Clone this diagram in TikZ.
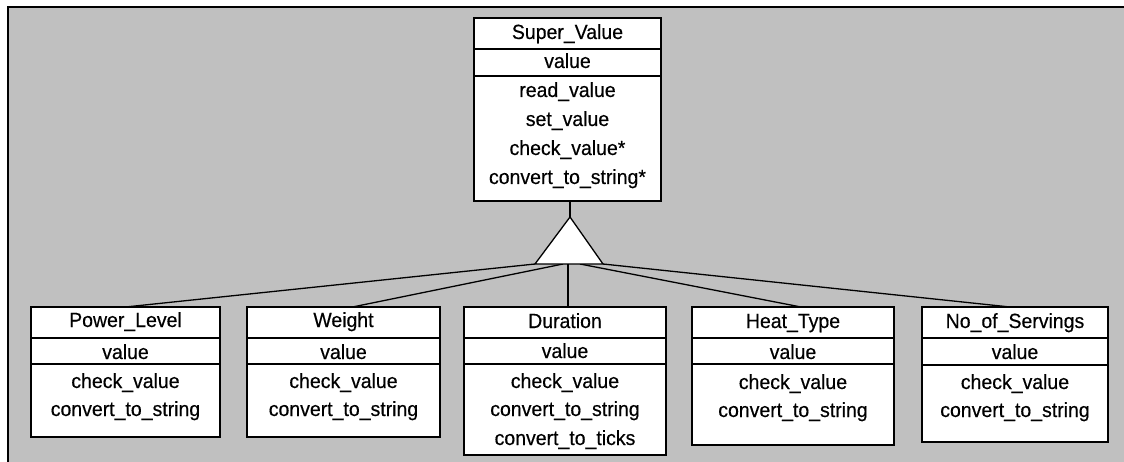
\documentclass[tikz,border=0pt]{standalone}
\usepackage{fontspec}
\setmainfont{Liberation Sans}[FakeStretch=0.95, FakeBold=0.4]
\usetikzlibrary{calc}
\definecolor{panel}{HTML}{C0C0C0}
\tikzset{
  cls/.style={draw=black, fill=white, line width=2pt, inner sep=0pt, outer sep=0pt, anchor=north west},
  divline/.style={draw=black, line width=1.3pt},
  lbl/.style={anchor=base, inner sep=0pt, font=\fontsize{20.5}{24}\selectfont},
  link/.style={draw=black, line width=1.3pt},
  inherit/.style={draw=black, fill=white, line width=1.3pt, line join=miter},
}
\begin{document}
\begin{tikzpicture}[x=1pt, y=-1pt]
  % canvas and panel frame
  \useasboundingbox (0,0) rectangle (1124,462);
  \fill[white] (0,0) rectangle (1124,462);
  \fill[panel] (8,7) rectangle (1124,462);
  \draw[line width=2pt] (8,462) -- (8,7) -- (1124,7);

  % ---- base class ----
  \node[cls, minimum width=187pt, minimum height=183pt] (sv) at (474,18) {};
  \draw[divline] (sv.west |- 0,49) -- (sv.east |- 0,49);
  \draw[divline] (sv.west |- 0,76) -- (sv.east |- 0,76);
  \node[lbl] (svT) at (sv.north |- 0,39) {Super\_Value};
  \node[lbl] (svA) at (sv.north |- 0,68) {value};
  \node[lbl] (svM1) at (sv.north |- 0,97) {read\_value};
  \node[lbl] (svM2) at (sv.north |- 0,126) {set\_value};
  \node[lbl] (svM3) at (sv.north |- 0,155) {check\_value*};
  \node[lbl] (svM4) at (sv.north |- 0,184) {convert\_to\_string*};

  % ---- generalisation triangle ----
  \coordinate (apex) at (570,217);
  \coordinate (bl) at (535,264);
  \coordinate (br) at (603,264);
  \coordinate (b1) at (563,264);
  \coordinate (b2) at (568,264);
  \coordinate (b3) at (580,264);
  \draw[link] (sv.south -| apex) -- (apex);

  % ---- derived classes ----
  % Power_Level
  \node[cls, minimum width=189pt, minimum height=130pt] (pl) at (31,307) {};
  \draw[divline] (pl.west |- 0,338) -- (pl.east |- 0,338);
  \draw[divline] (pl.west |- 0,364) -- (pl.east |- 0,364);
  \node[lbl] (plT) at (pl.north |- 0,327) {Power\_Level};
  \node[lbl] (plA) at (pl.north |- 0,359) {value};
  \node[lbl] (plM1) at (pl.north |- 0,388) {check\_value};
  \node[lbl] (plM2) at (pl.north |- 0,416) {convert\_to\_string};

  % Weight
  \node[cls, minimum width=193pt, minimum height=130pt] (wt) at (247,307) {};
  \draw[divline] (wt.west |- 0,338) -- (wt.east |- 0,338);
  \draw[divline] (wt.west |- 0,364) -- (wt.east |- 0,364);
  \node[lbl] (wtT) at (wt.north |- 0,327) {Weight};
  \node[lbl] (wtA) at (wt.north |- 0,359) {value};
  \node[lbl] (wtM1) at (wt.north |- 0,388) {check\_value};
  \node[lbl] (wtM2) at (wt.north |- 0,416) {convert\_to\_string};

  % Duration
  \node[cls, minimum width=202pt, minimum height=148pt] (du) at (464,307) {};
  \draw[divline] (du.west |- 0,338) -- (du.east |- 0,338);
  \draw[divline] (du.west |- 0,364) -- (du.east |- 0,364);
  \node[lbl] (duT) at (du.north |- 0,328) {Duration};
  \node[lbl] (duA) at (du.north |- 0,358) {value};
  \node[lbl] (duM1) at (du.north |- 0,388) {check\_value};
  \node[lbl] (duM2) at (du.north |- 0,416) {convert\_to\_string};
  \node[lbl] (duM3) at (du.north |- 0,445) {convert\_to\_ticks};

  % Heat_Type
  \node[cls, minimum width=202pt, minimum height=138pt] (ht) at (692,307) {};
  \draw[divline] (ht.west |- 0,338) -- (ht.east |- 0,338);
  \draw[divline] (ht.west |- 0,364) -- (ht.east |- 0,364);
  \node[lbl] (htT) at (ht.north |- 0,328) {Heat\_Type};
  \node[lbl] (htA) at (ht.north |- 0,359) {value};
  \node[lbl] (htM1) at (ht.north |- 0,389) {check\_value};
  \node[lbl] (htM2) at (ht.north |- 0,417) {convert\_to\_string};

  % No_of_Servings
  \node[cls, minimum width=186pt, minimum height=135pt] (ns) at (922,307) {};
  \draw[divline] (ns.west |- 0,338) -- (ns.east |- 0,338);
  \draw[divline] (ns.west |- 0,365) -- (ns.east |- 0,365);
  \node[lbl] (nsT) at (ns.north |- 0,328) {No\_of\_Servings};
  \node[lbl] (nsA) at (ns.north |- 0,359) {value};
  \node[lbl] (nsM1) at (ns.north |- 0,389) {check\_value};
  \node[lbl] (nsM2) at (ns.north |- 0,417) {convert\_to\_string};

  % ---- connectors from the triangle base to each subclass ----
  \draw[link] (bl) -- (pl.north);
  \draw[link] (b1) -- ($(wt.north)+(9,0)$);
  \draw[link] (b2) -- (du.north -| b2);
  \draw[link] (b3) -- ($(ht.north)+(8,0)$);
  \draw[link] (br) -- ($(ns.north)+(-5,0)$);

  % triangle drawn last so it sits over the line ends
  \draw[inherit] (apex) -- (bl) -- (br) -- cycle;
\end{tikzpicture}
\end{document}
